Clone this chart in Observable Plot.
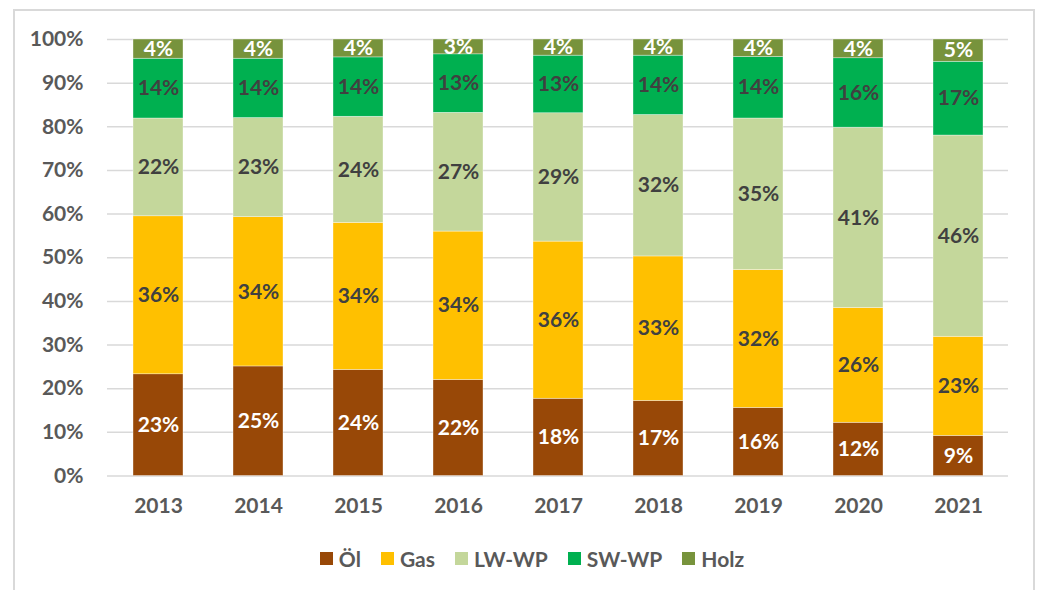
<!DOCTYPE html>
<html>
<head>
<meta charset="utf-8">
<script src="https://cdn.jsdelivr.net/npm/d3@7"></script>
<script src="https://cdn.jsdelivr.net/npm/@observablehq/plot@0.6"></script>
<style>
  html, body { margin: 0; padding: 0; background: #fff; overflow: hidden; }
  #wrap { position: relative; width: 1040px; height: 590px; font-family: Lato, "Open Sans", sans-serif; }
  #frame { position: absolute; left: 13px; top: 9px; width: 1022px; height: 640px; border: 2px solid #d9d9d9; box-sizing: border-box; }
  #chart { position: absolute; left: 0; top: 0; }
  #legend { position: absolute; left: 12px; top: 546px; width: 1040px; display: flex; justify-content: center; font-weight: 700; font-size: 21px; color: #595959; }
  .item { display: flex; align-items: center; margin: 0 10px; }
  .sw { width: 13px; height: 13px; margin-right: 6px; }
</style>
</head>
<body>
<div id="wrap">
  <div id="frame"></div>
  <div id="chart"></div>
  <div id="legend"></div>
</div>
<script>
const years = ["2013","2014","2015","2016","2017","2018","2019","2020","2021"];
const types = ["Öl","Gas","LW-WP","SW-WP","Holz"];
const colors = ["#984807","#FFC000","#C4D79B","#00B050","#77933C"];
const oel   = [23.3, 25.1, 24.3, 22.0, 17.7, 17.2, 15.6, 12.2, 9.2];
const gas   = [36.2, 34.2, 33.7, 34.0, 36.0, 33.1, 31.6, 26.3, 22.7];
const lwwp  = [22.4, 22.7, 24.3, 27.2, 29.4, 32.4, 34.7, 41.3, 46.1];
const swwp  = [13.7, 13.6, 13.6, 13.4, 13.2, 13.6, 14.1, 15.9, 16.9];
const holz  = [ 4.4,  4.4,  4.1,  3.4,  3.7,  3.7,  4.0,  4.3,  5.1];
const yTicks = [0,10,20,30,40,50,60,70,80,90,100];

const series = [oel, gas, lwwp, swwp, holz];
const data = [];
types.forEach((t, i) => years.forEach((y, j) => data.push({year: y, type: t, value: series[i][j]})));

const lightText = new Set(["Öl","Holz"]);
const stackOpts = {x: "year", y: "value", z: "type", order: types};
const lbl = d => Math.round(d.value) + "%";

const plot = Plot.plot({
  width: 1040,
  height: 520,
  marginTop: 39,
  marginBottom: 44.5,
  marginLeft: 107,
  marginRight: 32,
  style: {fontFamily: "Lato, 'Open Sans', sans-serif", fontSize: "21px", fontWeight: 700, color: "#595959", background: "transparent"},
  x: {domain: years, paddingInner: 0.5, paddingOuter: 0.25, label: null, tickSize: 0, tickPadding: 22},
  y: {domain: [0, 100], ticks: yTicks, tickFormat: d => d + "%", label: null, tickSize: 0, tickPadding: 24},
  color: {domain: types, range: colors},
  marks: [
    Plot.ruleY(yTicks, {stroke: "#d9d9d9", strokeWidth: 1.5}),
    Plot.barY(data, Plot.stackY({...stackOpts, fill: "type", stroke: "#ffffff", strokeWidth: 0.6, strokeOpacity: 0.6})),
    Plot.text(data, Plot.stackY({...stackOpts, text: d => lightText.has(d.type) ? lbl(d) : "", fill: "#ffffff", fontSize: 21, fontWeight: 700})),
    Plot.text(data, Plot.stackY({...stackOpts, text: d => lightText.has(d.type) ? "" : lbl(d), fill: "#404040", fontSize: 21, fontWeight: 700}))
  ]
});
document.getElementById("chart").appendChild(plot);

const legend = d3.select("#legend");
types.forEach((t, i) => {
  const it = legend.append("div").attr("class", "item");
  it.append("div").attr("class", "sw").style("background", colors[i]);
  it.append("span").text(t);
});
</script>
</body>
</html>
